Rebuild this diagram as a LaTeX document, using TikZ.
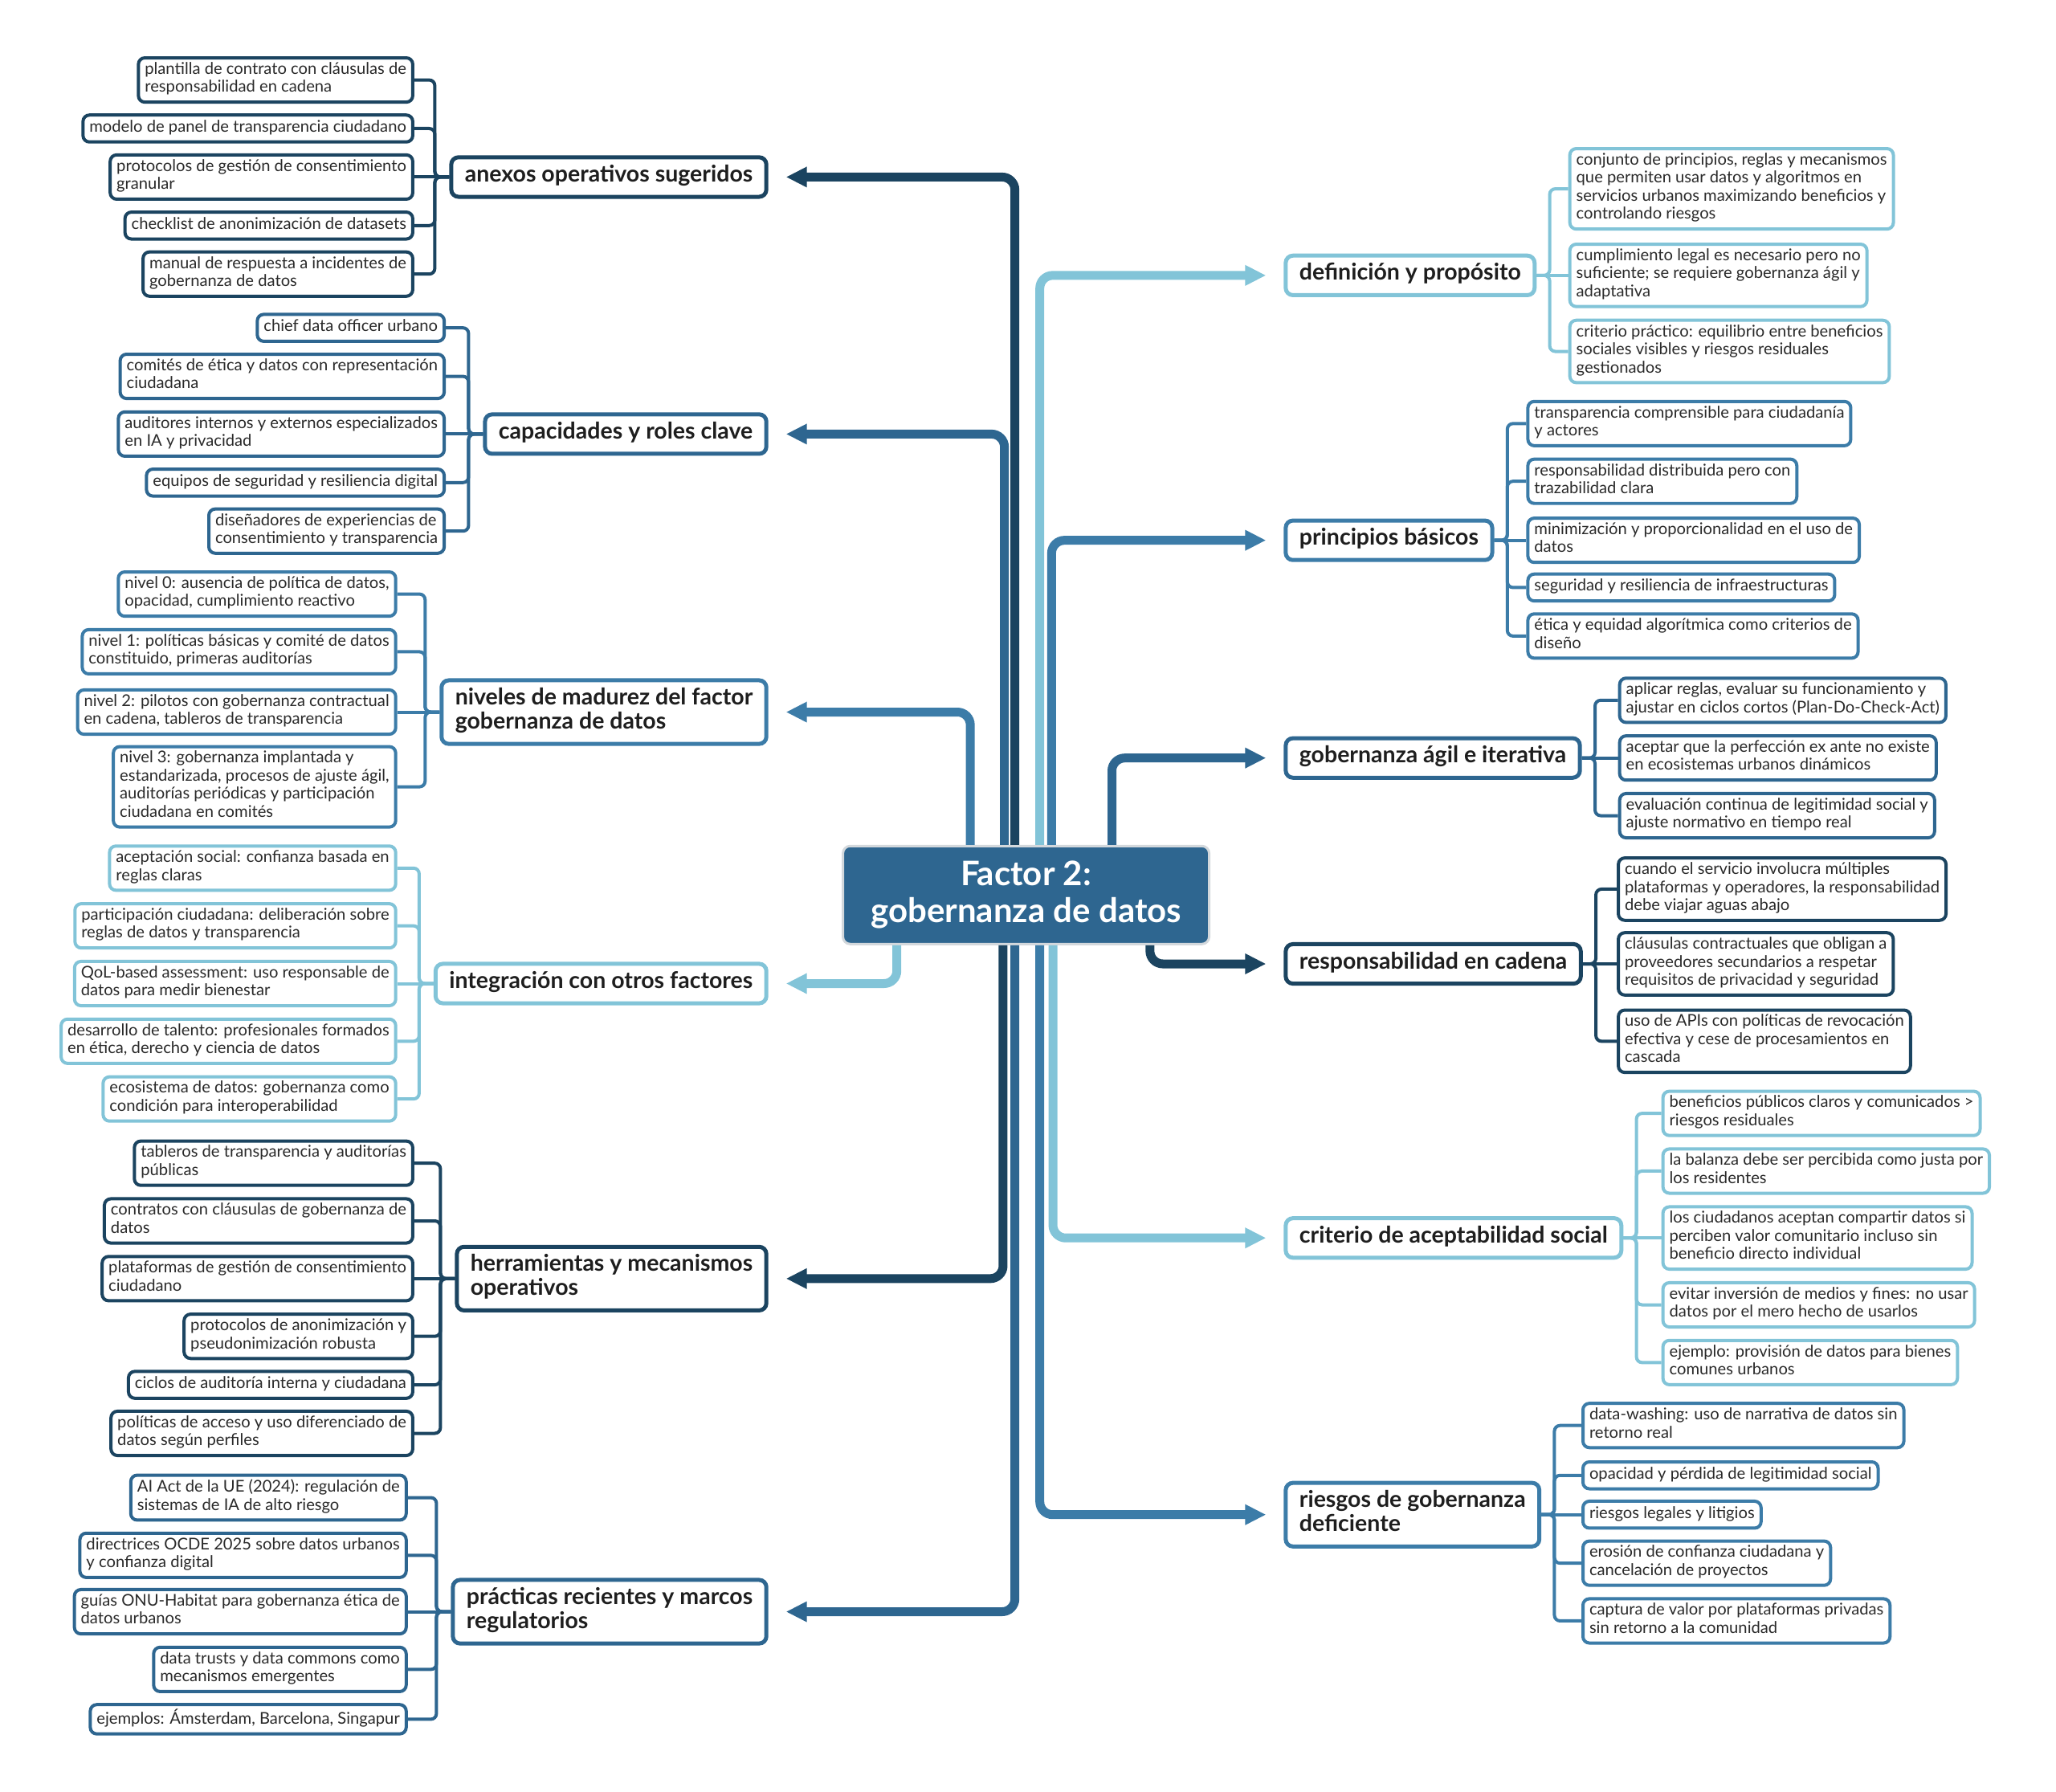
\documentclass[tikz,border=0pt]{standalone}
\usepackage{fontspec}
\setmainfont{Lato}
\usetikzlibrary{arrows.meta}

\definecolor{navy}{HTML}{1B4460}
\definecolor{steel}{HTML}{2E6690}
\definecolor{azure}{HTML}{3C7CA8}
\definecolor{sky}{HTML}{82C4D8}
\definecolor{rim}{HTML}{D3D8DC}
\definecolor{ink}{HTML}{1E1E1E}
\definecolor{graytext}{HTML}{2A2A2A}

\begin{document}
\begin{tikzpicture}[x=1.6327pt,y=-1.6327pt,
    root/.style={fill=steel,draw=rim,line width=3pt,rounded corners=9pt,text=white,
      font=\fontsize{42}{46}\selectfont\bfseries,align=center,
      minimum width=456pt,minimum height=122pt},
    topic/.style={draw=#1,fill=white,line width=5pt,rounded corners=9pt,text=ink,
      font=\fontsize{28.5}{30}\selectfont\bfseries,align=left,inner xsep=17pt,inner ysep=9.5pt,
      execute at begin node=\strut,execute at end node=\strut},
    leaf/.style={draw=#1,fill=white,line width=4pt,rounded corners=8pt,text=graytext,
      font=\fontsize{20.2}{22.5}\selectfont,align=left,inner xsep=8pt,inner ysep=5.5pt,
      execute at begin node=\strut,execute at end node=\strut},
    trunk/.style={draw=#1,line width=11pt,rounded corners=16pt,
      -{Triangle[length=26pt,width=24pt]},shorten >=22pt},
    twig/.style={draw=#1,line width=4pt,rounded corners=7pt}]

    \fill[white] (0,0) rectangle (1568,1366);
    \useasboundingbox (0,0) rectangle (1568,1366);

    \node[root] (root) at (782.5,682.5) {Factor 2:\\gobernanza de datos};

    % left topics
    \node[topic=navy,anchor=east] (anexos) at (586,135) {anexos operativos sugeridos};
    \node[topic=steel,anchor=east] (roles) at (586,331) {capacidades y roles clave};
    \node[topic=azure,anchor=east] (madurez) at (586,543) {niveles de madurez del factor\\gobernanza de datos};
    \node[topic=sky,anchor=east] (integra) at (586,750) {integración con otros factores};
    \node[topic=navy,anchor=east] (herram) at (586,975) {herramientas y mecanismos\\operativos};
    \node[topic=steel,anchor=east] (marcos) at (586,1229) {prácticas recientes y marcos\\regulatorios};

    % right topics
    \node[topic=sky,anchor=west] (definic) at (979,210) {definición y propósito};
    \node[topic=azure,anchor=west] (princip) at (979,412) {principios básicos};
    \node[topic=steel,anchor=west] (agil) at (979,578) {gobernanza ágil e iterativa};
    \node[topic=navy,anchor=west] (cadena) at (979,735) {responsabilidad en cadena};
    \node[topic=sky,anchor=west] (criterio) at (979,944) {criterio de aceptabilidad social};
    \node[topic=azure,anchor=west] (riesgos) at (979,1155) {riesgos de gobernanza\\deficiente};

    % anexos
    \node[leaf=navy,anchor=east] (a1) at (316,61) {plantilla de contrato con cláusulas de\\responsabilidad en cadena};
    \node[leaf=navy,anchor=east] (a2) at (316,98) {modelo de panel de transparencia ciudadano};
    \node[leaf=navy,anchor=east] (a3) at (316,135) {protocolos de gestión de consentimiento\\granular};
    \node[leaf=navy,anchor=east] (a4) at (316,172) {checklist de anonimización de datasets};
    \node[leaf=navy,anchor=east] (a5) at (316,209) {manual de respuesta a incidentes de\\gobernanza de datos};

    % roles
    \node[leaf=steel,anchor=east] (r1) at (340,250) {chief data officer urbano};
    \node[leaf=steel,anchor=east] (r2) at (340,287) {comités de ética y datos con representación\\ciudadana};
    \node[leaf=steel,anchor=east] (r3) at (340,331) {auditores internos y externos especializados\\en IA y privacidad};
    \node[leaf=steel,anchor=east] (r4) at (340,368) {equipos de seguridad y resiliencia digital};
    \node[leaf=steel,anchor=east] (r5) at (340,405) {diseñadores de experiencias de\\consentimiento y transparencia};

    % madurez
    \node[leaf=azure,anchor=east] (m1) at (303,453) {nivel 0: ausencia de política de datos,\\opacidad, cumplimiento reactivo};
    \node[leaf=azure,anchor=east] (m2) at (303,497) {nivel 1: políticas básicas y comité de datos\\constituido, primeras auditorías};
    \node[leaf=azure,anchor=east] (m3) at (303,543) {nivel 2: pilotos con gobernanza contractual\\en cadena, tableros de transparencia};
    \node[leaf=azure,anchor=east] (m4) at (303,600) {nivel 3: gobernanza implantada y\\estandarizada, procesos de ajuste ágil,\\auditorías periódicas y participación\\ciudadana en comités};

    % integra
    \node[leaf=sky,anchor=east] (i1) at (303,662) {aceptación social: confianza basada en\\reglas claras};
    \node[leaf=sky,anchor=east] (i2) at (303,706) {participación ciudadana: deliberación sobre\\reglas de datos y transparencia};
    \node[leaf=sky,anchor=east] (i3) at (303,750) {QoL-based assessment: uso responsable de\\datos para medir bienestar};
    \node[leaf=sky,anchor=east] (i4) at (303,794) {desarrollo de talento: profesionales formados\\en ética, derecho y ciencia de datos};
    \node[leaf=sky,anchor=east] (i5) at (303,838) {ecosistema de datos: gobernanza como\\condición para interoperabilidad};

    % herram
    \node[leaf=navy,anchor=east] (h1) at (316,887) {tableros de transparencia y auditorías\\públicas};
    \node[leaf=navy,anchor=east] (h2) at (316,931) {contratos con cláusulas de gobernanza de\\datos};
    \node[leaf=navy,anchor=east] (h3) at (316,975) {plataformas de gestión de consentimiento\\ciudadano};
    \node[leaf=navy,anchor=east] (h4) at (316,1019) {protocolos de anonimización y\\pseudonimización robusta};
    \node[leaf=navy,anchor=east] (h5) at (316,1056) {ciclos de auditoría interna y ciudadana};
    \node[leaf=navy,anchor=east] (h6) at (316,1093) {políticas de acceso y uso diferenciado de\\datos según perfiles};

    % marcos
    \node[leaf=steel,anchor=east] (p1) at (311,1142) {AI Act de la UE (2024): regulación de\\sistemas de IA de alto riesgo};
    \node[leaf=steel,anchor=east] (p2) at (311,1186) {directrices OCDE 2025 sobre datos urbanos\\y confianza digital};
    \node[leaf=steel,anchor=east] (p3) at (311,1229) {guías ONU-Habitat para gobernanza ética de\\datos urbanos};
    \node[leaf=steel,anchor=east] (p4) at (311,1273) {data trusts y data commons como\\mecanismos emergentes};
    \node[leaf=steel,anchor=east] (p5) at (311,1311) {ejemplos: Ámsterdam, Barcelona, Singapur};

    % definic
    \node[leaf=sky,anchor=west] (d1) at (1196,144) {conjunto de principios, reglas y mecanismos\\que permiten usar datos y algoritmos en\\servicios urbanos maximizando beneficios y\\controlando riesgos};
    \node[leaf=sky,anchor=west] (d2) at (1196,210) {cumplimiento legal es necesario pero no\\suficiente; se requiere gobernanza ágil y\\adaptativa};
    \node[leaf=sky,anchor=west] (d3) at (1196,268) {criterio práctico: equilibrio entre beneficios\\sociales visibles y riesgos residuales\\gestionados};

    % princip
    \node[leaf=azure,anchor=west] (b1) at (1164,323) {transparencia comprensible para ciudadanía\\y actores};
    \node[leaf=azure,anchor=west] (b2) at (1164,367) {responsabilidad distribuida pero con\\trazabilidad clara};
    \node[leaf=azure,anchor=west] (b3) at (1164,412) {minimización y proporcionalidad en el uso de\\datos};
    \node[leaf=azure,anchor=west] (b4) at (1164,448) {seguridad y resiliencia de infraestructuras};
    \node[leaf=azure,anchor=west] (b5) at (1164,485) {ética y equidad algorítmica como criterios de\\diseño};

    % agil
    \node[leaf=steel,anchor=west] (g1) at (1234,534) {aplicar reglas, evaluar su funcionamiento y\\ajustar en ciclos cortos (Plan-Do-Check-Act)};
    \node[leaf=steel,anchor=west] (g2) at (1234,578) {aceptar que la perfección ex ante no existe\\en ecosistemas urbanos dinámicos};
    \node[leaf=steel,anchor=west] (g3) at (1234,622) {evaluación continua de legitimidad social y\\ajuste normativo en tiempo real};

    % cadena
    \node[leaf=navy,anchor=west] (c1) at (1233,678) {cuando el servicio involucra múltiples\\plataformas y operadores, la responsabilidad\\debe viajar aguas abajo};
    \node[leaf=navy,anchor=west] (c2) at (1233,735) {cláusulas contractuales que obligan a\\proveedores secundarios a respetar\\requisitos de privacidad y seguridad};
    \node[leaf=navy,anchor=west] (c3) at (1233,794) {uso de APIs con políticas de revocación\\efectiva y cese de procesamientos en\\cascada};

    % criterio
    \node[leaf=sky,anchor=west] (s1) at (1267,849) {beneficios públicos claros y comunicados >\\riesgos residuales};
    \node[leaf=sky,anchor=west] (s2) at (1267,893) {la balanza debe ser percibida como justa por\\los residentes};
    \node[leaf=sky,anchor=west] (s3) at (1267,944) {los ciudadanos aceptan compartir datos si\\perciben valor comunitario incluso sin\\beneficio directo individual};
    \node[leaf=sky,anchor=west] (s4) at (1267,995) {evitar inversión de medios y fines: no usar\\datos por el mero hecho de usarlos};
    \node[leaf=sky,anchor=west] (s5) at (1267,1039) {ejemplo: provisión de datos para bienes\\comunes urbanos};

    % riesgos
    \node[leaf=azure,anchor=west] (k1) at (1206,1087) {data-washing: uso de narrativa de datos sin\\retorno real};
    \node[leaf=azure,anchor=west] (k2) at (1206,1125) {opacidad y pérdida de legitimidad social};
    \node[leaf=azure,anchor=west] (k3) at (1206,1155) {riesgos legales y litigios};
    \node[leaf=azure,anchor=west] (k4) at (1206,1192) {erosión de confianza ciudadana y\\cancelación de proyectos};
    \node[leaf=azure,anchor=west] (k5) at (1206,1236) {captura de valor por plataformas privadas\\sin retorno a la comunidad};

    % trunks from the root
    \draw[trunk=steel] (766,0 |- root.north) |- (roles);
    \draw[trunk=navy] (774,0 |- root.north) |- (anexos);
    \draw[trunk=azure] (740,0 |- root.north) |- (madurez);
    \draw[trunk=sky] (684,0 |- root.south) |- (integra);
    \draw[trunk=navy] (765,0 |- root.south) |- (herram);
    \draw[trunk=steel] (774,0 |- root.south) |- (marcos);
    \draw[trunk=sky] (793,0 |- root.north) |- (definic);
    \draw[trunk=azure] (802,0 |- root.north) |- (princip);
    \draw[trunk=steel] (848,0 |- root.north) |- (agil);
    \draw[trunk=navy] (877,0 |- root.south) |- (cadena);
    \draw[trunk=azure] (793,0 |- root.south) |- (riesgos);
    \draw[trunk=sky] (803,0 |- root.south) |- (criterio);

    % brackets, left side
    \foreach \leaf in {a1,a2,a4,a5}
        \draw[twig=navy] (anexos.west) -- ++(-11,0) |- (\leaf.east);
    \draw[twig=navy] (anexos) -- (a3);
    \foreach \leaf in {r1,r2,r4,r5}
        \draw[twig=steel] (roles.west) -- ++(-11,0) |- (\leaf.east);
    \draw[twig=steel] (roles) -- (r3);
    \foreach \leaf in {m1,m2,m4}
        \draw[twig=azure] (madurez.west) -- ++(-11,0) |- (\leaf.east);
    \draw[twig=azure] (madurez) -- (m3);
    \foreach \leaf in {i1,i2,i4,i5}
        \draw[twig=sky] (integra.west) -- ++(-11,0) |- (\leaf.east);
    \draw[twig=sky] (integra) -- (i3);
    \foreach \leaf in {h1,h2,h4,h5,h6}
        \draw[twig=navy] (herram.west) -- ++(-11,0) |- (\leaf.east);
    \draw[twig=navy] (herram) -- (h3);
    \foreach \leaf in {p1,p2,p4,p5}
        \draw[twig=steel] (marcos.west) -- ++(-11,0) |- (\leaf.east);
    \draw[twig=steel] (marcos) -- (p3);

    % brackets, right side
    \foreach \leaf in {d1,d3}
        \draw[twig=sky] (definic.east) -- ++(10,0) |- (\leaf.west);
    \draw[twig=sky] (definic) -- (d2);
    \foreach \leaf in {b1,b2,b4,b5}
        \draw[twig=azure] (princip.east) -- ++(10,0) |- (\leaf.west);
    \draw[twig=azure] (princip) -- (b3);
    \foreach \leaf in {g1,g3}
        \draw[twig=steel] (agil.east) -- ++(10,0) |- (\leaf.west);
    \draw[twig=steel] (agil) -- (g2);
    \foreach \leaf in {c1,c3}
        \draw[twig=navy] (cadena.east) -- ++(10,0) |- (\leaf.west);
    \draw[twig=navy] (cadena) -- (c2);
    \foreach \leaf in {s1,s2,s4,s5}
        \draw[twig=sky] (criterio.east) -- ++(10,0) |- (\leaf.west);
    \draw[twig=sky] (criterio) -- (s3);
    \foreach \leaf in {k1,k2,k4,k5}
        \draw[twig=azure] (riesgos.east) -- ++(10,0) |- (\leaf.west);
    \draw[twig=azure] (riesgos) -- (k3);
\end{tikzpicture}
\end{document}
